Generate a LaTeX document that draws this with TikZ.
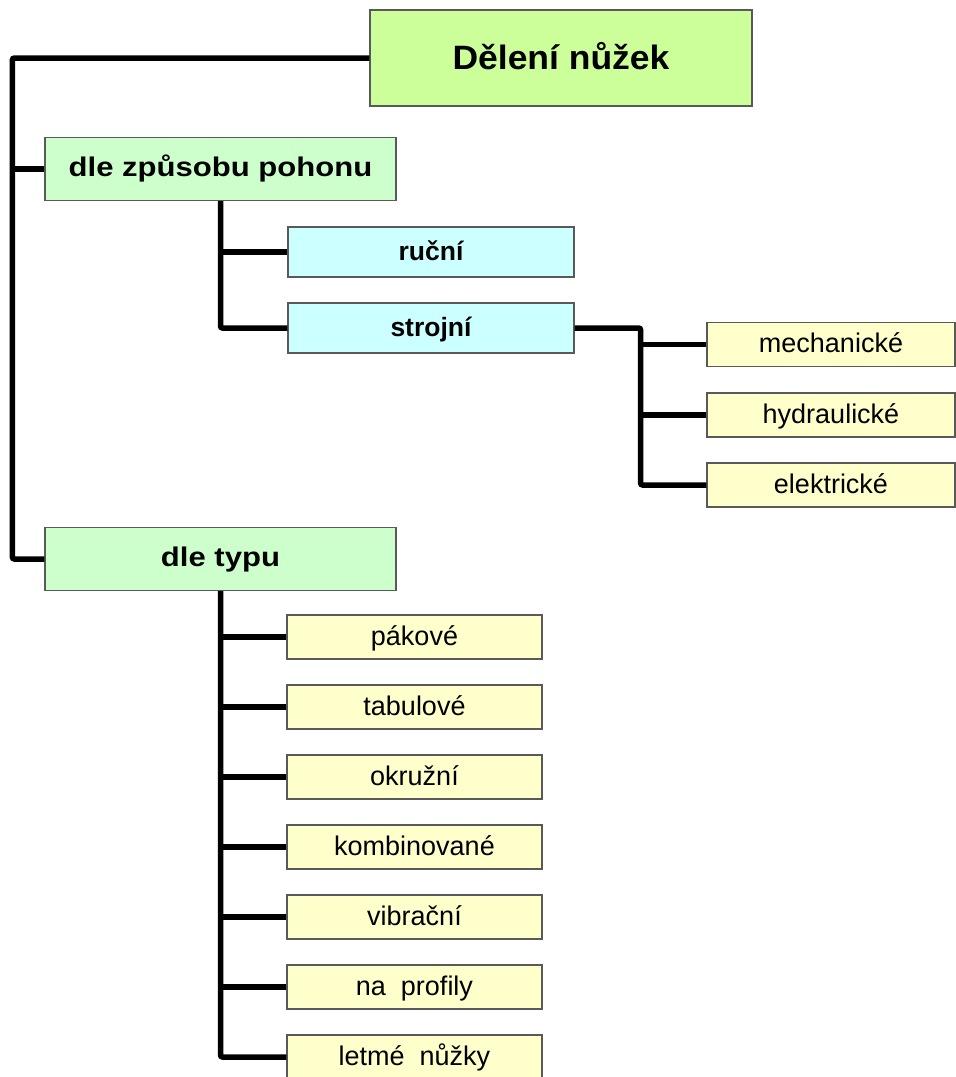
\documentclass[tikz,border=0pt]{standalone}
\usepackage{fontspec}
\setmainfont{Liberation Sans}
\newfontfamily\titlefont[FakeStretch=1.05]{Liberation Sans}
\newfontfamily\widefont[FakeStretch=1.15]{Liberation Sans}
\usetikzlibrary{calc}
\definecolor{titlegreen}{HTML}{CCFF99}
\definecolor{palegreen}{HTML}{CCFFCC}
\definecolor{palecyan}{HTML}{CCFFFF}
\definecolor{paleyellow}{HTML}{FFFFCC}
\tikzset{
  box/.style={draw=black!65, line width=1.2pt, inner sep=0pt, anchor=center},
  titlebox/.style={box, fill=titlegreen, minimum width=382pt, minimum height=96pt,
    font=\titlefont\bfseries\fontsize{33.8}{36}\selectfont, text height=24pt, text depth=2pt},
  groupbox/.style={box, fill=palegreen, minimum width=351pt, minimum height=63pt,
    font=\widefont\bfseries\fontsize{27}{30}\selectfont, text height=19.5pt, text depth=5pt},
  drivebox/.style={box, fill=palecyan, minimum width=286pt, minimum height=50pt,
    font=\bfseries\fontsize{26.5}{29}\selectfont, text height=19pt, text depth=1.5pt},
  leafbox/.style={box, fill=paleyellow, minimum height=44pt,
    font=\fontsize{27}{29}\selectfont, text height=19pt, text depth=3pt},
  conn/.style={line width=5.5pt, rounded corners=2pt},
}
\begin{document}
\begin{tikzpicture}[x=1pt,y=-1pt]
\useasboundingbox (0,0) rectangle (956,1077);

\node[titlebox] (title) at (561,58) {Dělení nůžek};
\node[groupbox] (pohon) at (220.5,169) {dle způsobu pohonu};
\node[groupbox] (typ) at (220.5,559) {dle typu};

\node[drivebox] (rucni) at (431,252) {ruční};
\node[drivebox] (strojni) at (431,328) {strojní};

\node[leafbox, minimum width=248pt] (mech) at (831,344.5) {mechanické};
\node[leafbox, minimum width=248pt] (hydr) at (831,415) {hydraulické};
\node[leafbox, minimum width=248pt] (elek) at (831,485) {elektrické};

\node[leafbox, minimum width=255pt] (pak) at (414.5,637) {pákové};
\node[leafbox, minimum width=255pt] (tab) at (414.5,707) {tabulové};
\node[leafbox, minimum width=255pt] (okr) at (414.5,777) {okružní};
\node[leafbox, minimum width=255pt] (kom) at (414.5,847) {kombinované};
\node[leafbox, minimum width=255pt] (vib) at (414.5,917) {vibrační};
\node[leafbox, minimum width=255pt] (pro) at (414.5,987) {na\ \ profily};
\node[leafbox, minimum width=255pt] (let) at (414.5,1057) {letmé\ \ nůžky};

% root trunk
\coordinate (trunk) at ([xshift=-32pt]typ.west);
\draw[conn] (title.west) -| (trunk) -- (typ.west);
\draw[conn] (trunk |- pohon.west) -- (pohon.west);

% drive branch
\draw[conn] (pohon.south) |- (strojni.west);
\draw[conn] (pohon.south |- rucni.west) -- (rucni.west);

% machine branch
\coordinate (sj) at ([xshift=66pt]strojni.east);
\draw[conn] (strojni.east) -- (sj) |- (elek.west);
\draw[conn] (sj |- mech.west) -- (mech.west);
\draw[conn] (sj |- hydr.west) -- (hydr.west);

% type branch
\draw[conn] (typ.south) |- (let.west);
\foreach \n in {pak,tab,okr,kom,vib,pro}
  \draw[conn] (typ.south |- \n.west) -- (\n.west);
\end{tikzpicture}
\end{document}
